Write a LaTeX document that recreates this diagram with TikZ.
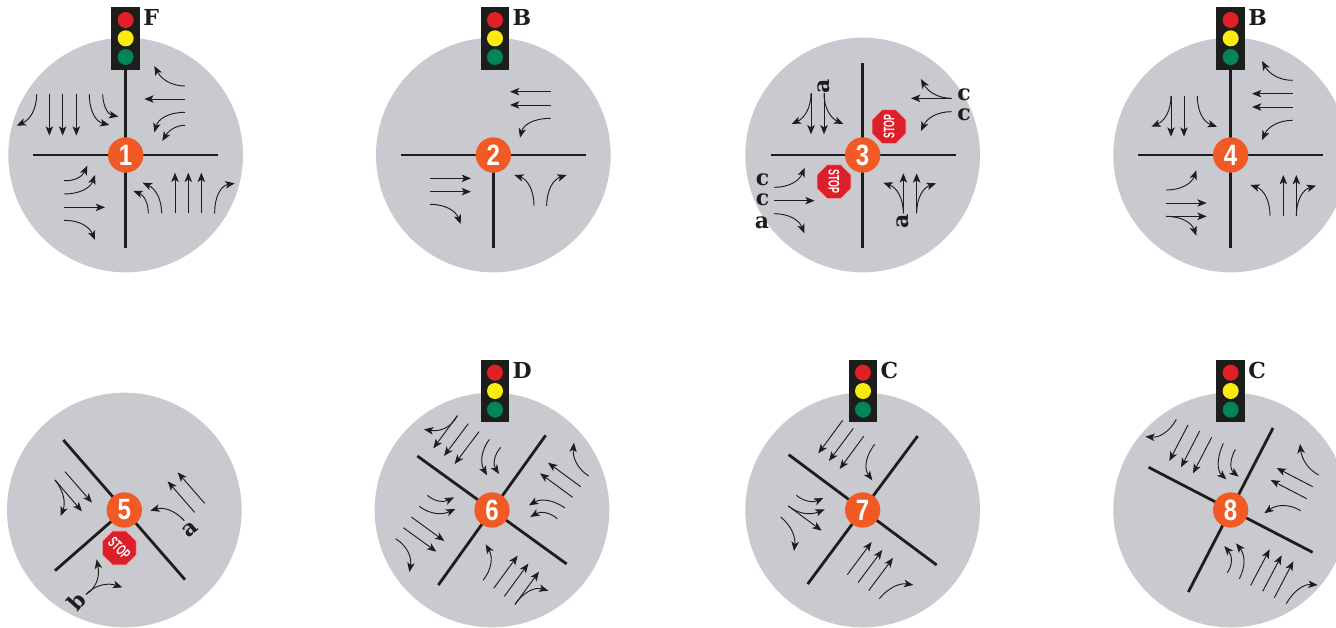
\documentclass[tikz,border=0pt]{standalone}
\usepackage{fontspec}
\setmainfont{DejaVu Serif}
\newfontfamily\numfont{Liberation Sans}
\usetikzlibrary{arrows.meta,shapes.geometric,calc}
\definecolor{disc}{HTML}{C9CAD0}
\definecolor{ink}{HTML}{1D1D1B}
\definecolor{badgeor}{HTML}{F15A24}
\definecolor{lred}{HTML}{E01F26}
\definecolor{lyellow}{HTML}{FBEC0E}
\definecolor{lgreen}{HTML}{00855A}
\definecolor{stopred}{HTML}{DB1F2B}
\definecolor{stopedge}{HTML}{F3B5B5}
\tikzset{
  disc/.style={fill=disc,draw=none},
  road/.style={draw=ink,line width=2.1pt},
  arw/.style={draw=ink,line width=0.7pt,-{Stealth[length=7pt,width=5.6pt,inset=1.8pt]}},
  badge/.style={circle,fill=badgeor,minimum size=26.5pt,inner sep=0pt,text=white,font=\numfont\fontsize{21}{21}\selectfont\bfseries},
  housing/.style={fill=ink,draw=none},
  lamp/.style={circle,minimum size=12pt,inner sep=0pt},
  letter/.style={text=ink,font=\fontsize{16.5}{16.5}\selectfont\bfseries,inner sep=0pt},
  stopsign/.style={regular polygon,regular polygon sides=8,fill=stopred,draw=stopedge,line width=.6pt,minimum size=27.5pt,inner sep=0pt,text=white,font=\numfont\fontsize{11.5}{11.5}\selectfont\bfseries},
}
\newcommand{\lane}[2]{\draw[arw] (#1) -- (#2);}
\newcommand{\turn}[3]{\draw[arw] (#1) .. controls ($(#1)!0.667!(#2)$) and ($(#3)!0.667!(#2)$) .. (#3);}
\newcommand{\nmb}[1]{\scalebox{.86}[1.05]{#1}}
\newcommand{\trafficsignal}[3]{% cx, top, letter
  \fill[housing] (#1-43,#2) rectangle (#1+43,#2+187);
  \node[lamp,fill=lred] at (#1,#2+38) {};
  \node[lamp,fill=lyellow] at (#1,#2+93) {};
  \node[lamp,fill=lgreen] at (#1,#2+149) {};
  \node[letter,anchor=west] at (#1+52,#2+31) {#3};
}
\newcommand{\stopat}[3]{\node[stopsign,rotate=#2] (#3) at (#1) {\scalebox{.58}[1]{STOP}};}
\begin{document}
\begin{tikzpicture}[x=0.25pt,y=-0.25pt]
\useasboundingbox (0,0) rectangle (4008,1884);
% ---------- 1
\begin{scope}[shift={(0,0)}]
\fill[disc] (377,465) circle (352);
\draw[road] (377,205) -- (377,745);
\draw[road] (100,465) -- (655,465);
\trafficsignal{377}{22}{F}
\node[badge] (b1) at (377,465) {\nmb{1}};
\turn{110,283}{110,350}{50,377}
\lane{148,283}{148,407}
\lane{188,283}{188,407}
\lane{229,283}{229,407}
\turn{268,283}{268,360}{328,375}
\turn{308,283}{310,340}{355,350}
\turn{555,258}{495,258}{463,198}
\lane{555,297}{433,297}
\turn{555,337}{480,337}{463,397}
\turn{555,376}{515,376}{487,423}
\turn{192,542}{240,545}{262,497}
\turn{192,582}{265,582}{285,525}
\lane{192,622}{315,622}
\turn{192,661}{260,660}{285,720}
\turn{445,640}{445,590}{400,573}
\turn{485,640}{485,575}{428,548}
\lane{525,640}{525,518}
\lane{565,640}{565,518}
\lane{604,640}{604,518}
\turn{644,640}{644,560}{704,550}
\end{scope}
% ---------- 2
\begin{scope}[shift={(1110,0)}]
\fill[disc] (370,465) circle (352);
\draw[road] (93,465) -- (648,465);
\draw[road] (370,465) -- (370,745);
\trafficsignal{375}{22}{B}
\node[badge] (b2) at (370,465) {\nmb{2}};
\lane{542,275}{420,275}
\lane{542,315}{420,315}
\turn{542,355}{465,355}{450,413}
\lane{180,535}{303,535}
\lane{180,575}{303,575}
\turn{180,613}{250,613}{272,672}
\turn{492,618}{492,545}{433,525}
\turn{530,618}{530,545}{590,525}
\end{scope}
% ---------- 3
\begin{scope}[shift={(2220,0)}]
\fill[disc] (368,465) circle (352);
\draw[road] (368,190) -- (368,745);
\draw[road] (92,465) -- (647,465);
\node[badge] (b3) at (368,465) {\nmb{3}};
\stopat{447,380}{90}{s3a}
\stopat{282,545}{-90}{s3b}
\turn{213,280}{213,345}{155,372}
\lane{213,280}{213,403}
\lane{252,280}{252,403}
\turn{252,280}{252,345}{310,372}
\turn{635,295}{575,295}{543,237}
\lane{635,295}{513,295}
\turn{635,335}{570,335}{543,393}
\turn{102,562}{170,562}{194,503}
\lane{102,602}{224,602}
\turn{102,641}{170,641}{193,700}
\turn{490,640}{490,570}{430,548}
\lane{490,640}{490,520}
\lane{530,640}{530,520}
\turn{530,640}{530,570}{588,550}
\node[letter,rotate=90] (a3a) at (252,258) {a};
\node[letter,rotate=90] (a3b) at (487,665) {a};
\node[letter] (c3a) at (672,283) {c};
\node[letter] (c3b) at (672,345) {c};
\node[letter] (c3c) at (68,538) {c};
\node[letter] (c3d) at (68,600) {c};
\node[letter] (a3c) at (66,667) {a};
\end{scope}
% ---------- 4
\begin{scope}[shift={(3258,0)}]
\fill[disc] (434,465) circle (352);
\draw[road] (434,205) -- (434,745);
\draw[road] (157,465) -- (712,465);
\trafficsignal{434}{22}{B}
\node[badge] (b4) at (434,465) {\nmb{4}};
\turn{255,288}{255,355}{196,380}
\lane{255,288}{255,410}
\lane{294,288}{294,410}
\turn{334,288}{334,360}{393,380}
\turn{620,241}{560,241}{528,183}
\lane{620,281}{498,281}
\lane{620,321}{498,321}
\turn{620,361}{555,361}{528,420}
\turn{240,570}{310,570}{331,511}
\lane{240,609}{362,609}
\lane{240,649}{362,649}
\turn{240,649}{310,649}{331,707}
\turn{552,648}{552,575}{493,555}
\lane{592,648}{592,525}
\lane{631,648}{631,525}
\turn{631,648}{631,575}{690,557}
\end{scope}
% ---------- 5
\begin{scope}[shift={(0,1050)}]
\fill[disc] (373,480) circle (352);
\draw[road] (190,270) -- (555,689);
\draw[road] (165,662) -- (373,480);
\node[badge] (b5) at (373,480) {\nmb{5}};
\stopat{358,594}{-45}{s5}
\lane{195,365}{276,458}
\lane{165,390}{246,484}
\turn{165,390}{205,440}{182,498}
\lane{614,460}{533,367}
\lane{584,487}{503,394}
\turn{553,512}{510,465}{451,482}
\turn{258,733}{305,705}{290,628}
\turn{258,733}{300,690}{367,712}
\node[letter,rotate=40] (a5) at (570,538) {a};
\node[letter,rotate=48] (b5l) at (231,753) {b};
\end{scope}
% ---------- 6
\begin{scope}[shift={(1110,1050)}]
\fill[disc] (366,480) circle (352);
\draw[road] (142,318) -- (590,642);
\draw[road] (527,256) -- (205,705);
\trafficsignal{375}{30}{D}
\node[badge] (b6) at (366,480) {\nmb{6}};
\turn{262,197}{235,250}{162,238}
\lane{262,197}{190,295}
\lane{295,221}{222,318}
\lane{327,245}{254,342}
\turn{358,268}{320,320}{351,376}
\turn{392,292}{360,330}{387,372}
\turn{656,378}{605,345}{612,278}
\lane{632,410}{534,338}
\lane{608,442}{510,370}
\turn{585,474}{530,435}{477,466}
\turn{562,506}{525,475}{481,501}
\turn{172,436}{205,465}{252,442}
\turn{148,469}{195,505}{256,477}
\lane{124,501}{223,573}
\lane{100,533}{199,605}
\turn{77,566}{130,600}{118,666}
\turn{339,691}{380,640}{347,583}
\lane{371,715}{443,617}
\lane{403,739}{475,641}
\lane{435,763}{507,665}
\turn{435,763}{475,705}{535,722}
\end{scope}
% ---------- 7
\begin{scope}[shift={(2220,1050)}]
\fill[disc] (368,480) circle (352);
\draw[road] (146,314) -- (590,645);
\draw[road] (533,258) -- (203,702);
\trafficsignal{369}{30}{C}
\node[badge] (b7) at (368,480) {\nmb{7}};
\lane{308,211}{235,310}
\lane{340,235}{267,333}
\lane{371,259}{299,357}
\turn{404,283}{360,340}{397,391}
\turn{169,436}{205,465}{250,444}
\turn{145,468}{190,505}{254,478}
\lane{145,468}{245,542}
\turn{122,501}{170,540}{162,603}
\lane{322,674}{395,576}
\lane{354,698}{427,600}
\lane{386,722}{459,624}
\turn{418,746}{460,695}{520,705}
\end{scope}
% ---------- 8
\begin{scope}[shift={(3258,1050)}]
\fill[disc] (434,480) circle (352);
\draw[road] (188,352) -- (680,607);
\draw[road] (561,234) -- (307,726);
\trafficsignal{434}{30}{C}
\node[badge] (b8) at (434,480) {\nmb{8}};
\turn{271,208}{240,265}{178,260}
\lane{306,225}{250,333}
\lane{341,243}{285,352}
\lane{377,262}{321,370}
\turn{412,280}{380,350}{421,388}
\turn{448,298}{420,350}{458,380}
\turn{698,375}{650,350}{642,282}
\lane{680,410}{572,354}
\lane{662,446}{554,390}
\turn{644,482}{590,450}{535,490}
\turn{424,668}{450,630}{415,588}
\turn{460,686}{490,630}{450,580}
\lane{494,706}{551,598}
\lane{530,724}{587,616}
\lane{565,743}{622,634}
\turn{601,761}{635,700}{695,705}
\end{scope}
\end{tikzpicture}
\end{document}
